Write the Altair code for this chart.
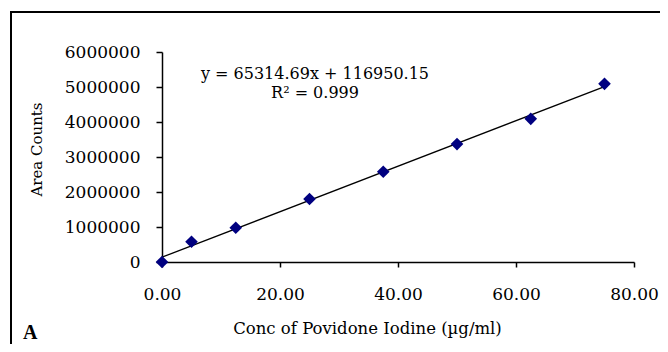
import altair as alt
import pandas as pd

conc = [0, 5, 12.5, 25, 37.5, 50, 62.5, 75]
area = [0, 580000, 980000, 1800000, 2580000, 3370000, 4090000, 5090000]
x_ticks = [0, 20, 40, 60, 80]
y_ticks = [0, 1000000, 2000000, 3000000, 4000000, 5000000, 6000000]
eq_lines = ["y = 65314.69x + 116950.15", "R\u00b2 = 0.999"]
panel_label = "A"
x_title = "Conc of  Povidone Iodine (\u00b5g/ml)"
y_title = "Area Counts"

df = pd.DataFrame({"conc": conc, "area": area})
FONT = "DejaVu Serif"

X = alt.X("conc:Q", scale=alt.Scale(domain=[0, 80], nice=False), axis=alt.Axis(
    values=x_ticks, format=".2f", title=x_title, grid=False, labelFlush=False,
    labelOverlap=False, tickSize=5, labelPadding=19, titleX=205, titleY=71,
    titleBaseline="alphabetic", titleAlign="center", titleFontSize=16.5))
Y = alt.Y("area:Q", scale=alt.Scale(domain=[0, 6000000], nice=False), axis=alt.Axis(
    values=y_ticks, format="d", title=y_title, grid=False, labelFlush=False,
    labelOverlap=False, tickSize=6, labelPadding=16, titleX=-126, titleY=97,
    titleBaseline="middle", titleAlign="center", titleFontSize=15))

base = alt.Chart(df)

line = base.transform_regression("conc", "area", extent=[0, 75]).mark_line(
    color="black", strokeWidth=1.3
).encode(x=X, y=Y)

pts = base.mark_point(shape="diamond", filled=True, color="#000080", size=160, opacity=1).encode(
    x=X, y=Y
)

eq = alt.Chart(pd.DataFrame({"t": [eq_lines]})).mark_text(
    font=FONT, fontSize=16, align="center", baseline="alphabetic", lineHeight=19, color="black"
).encode(text="t", x=alt.value(153), y=alt.value(27))

lab = alt.Chart(pd.DataFrame({"t": [panel_label]})).mark_text(
    font="Liberation Serif", fontSize=20, fontWeight="bold", align="left",
    baseline="alphabetic", color="black"
).encode(text="t", x=alt.value(-139), y=alt.value(287))

frame_top = alt.Chart(pd.DataFrame({"a": [0]})).mark_rule(color="black", strokeWidth=2).encode(
    x=alt.value(-151), x2=alt.value(510), y=alt.value(-40))
frame_left = alt.Chart(pd.DataFrame({"a": [0]})).mark_rule(color="black", strokeWidth=2).encode(
    x=alt.value(-151), y=alt.value(-41), y2=alt.value(300))

chart = alt.layer(frame_top, frame_left, line, pts, eq, lab).properties(
    width=472, height=210,
    autosize=alt.AutoSizeParams(type="none"),
    padding={"left": 154, "top": 44, "right": 26, "bottom": 82},
).configure_view(stroke=None).configure_axis(
    labelFont=FONT, titleFont=FONT, labelFontSize=17,
    labelColor="black", titleColor="black", titleFontWeight="normal",
    domainColor="black", tickColor="black", domainWidth=1.5, tickWidth=1.5,
)

chart.save("out.html", embed_options={"renderer": "svg", "actions": False})
